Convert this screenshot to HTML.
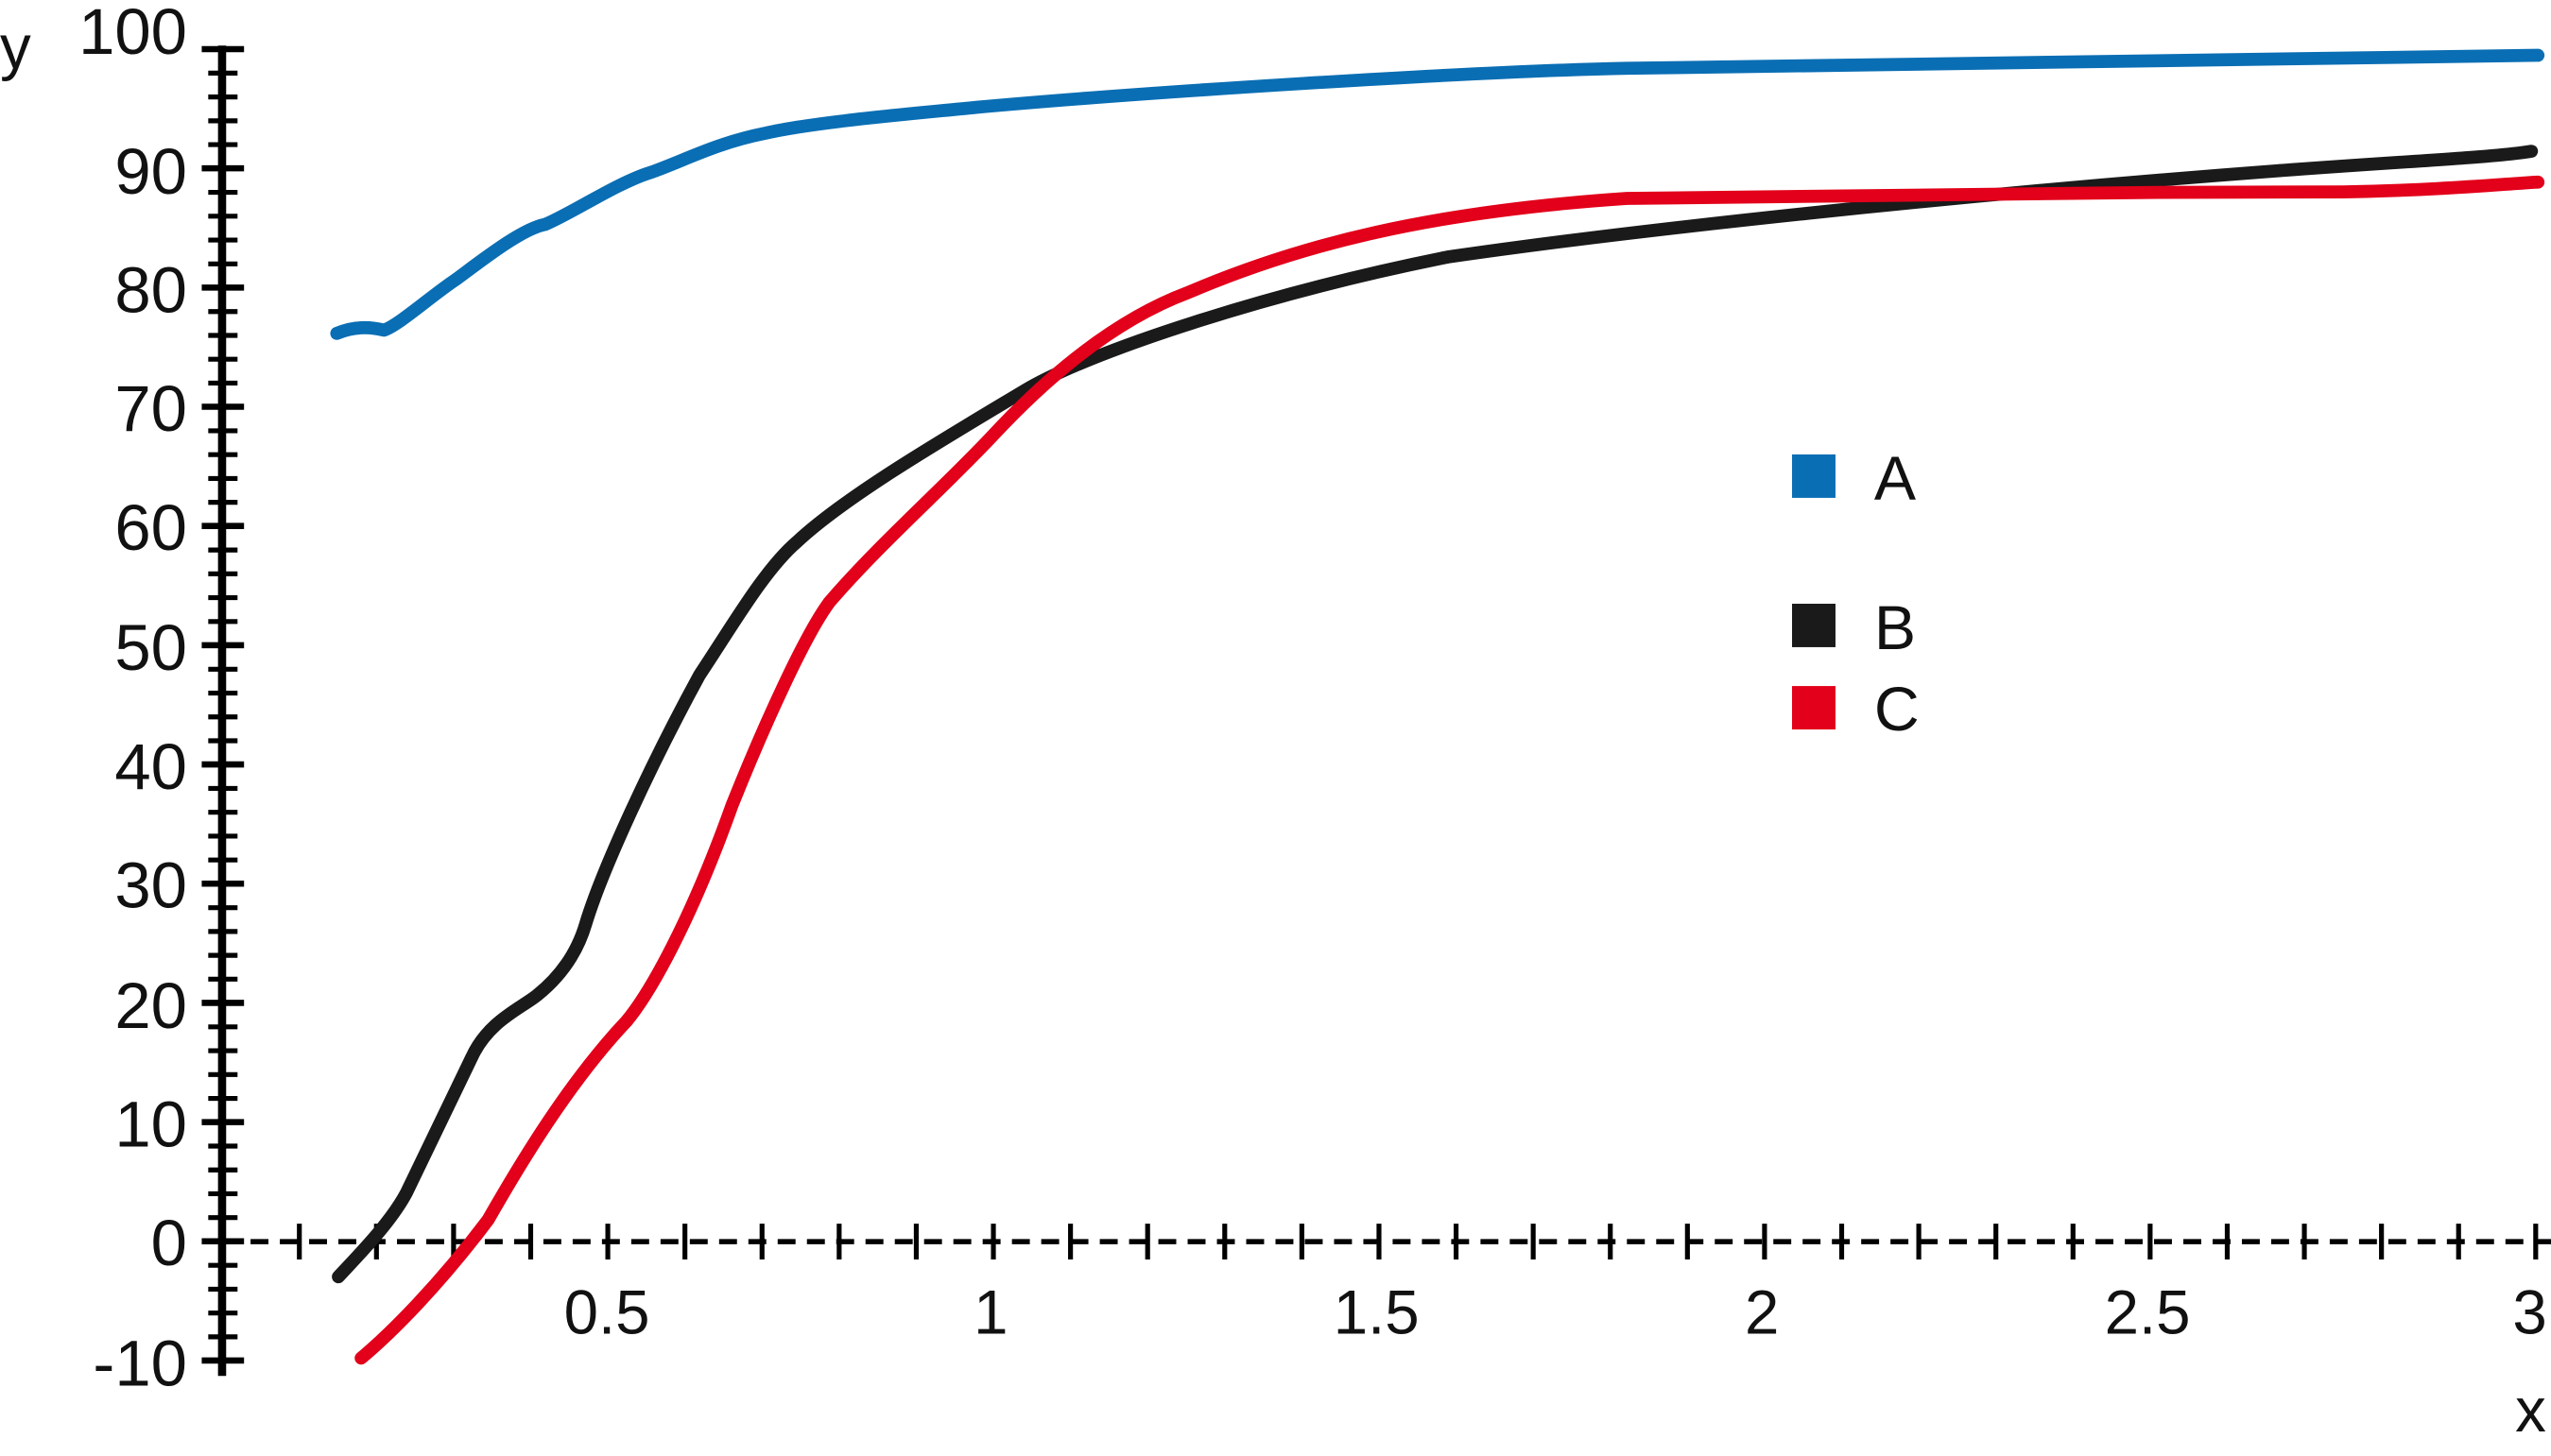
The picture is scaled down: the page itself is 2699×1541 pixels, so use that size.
<!DOCTYPE html>
<html><head><meta charset="utf-8"><style>
html,body{margin:0;padding:0;background:#fff;}
svg{display:block;}
text{font-family:"Liberation Sans",sans-serif;fill:#111;}
</style></head><body>
<svg width="2699" height="1541" viewBox="0 0 1568 895.2" preserveAspectRatio="none" xmlns="http://www.w3.org/2000/svg">
<rect x="0" y="0" width="1568" height="896" fill="#fff"/>
<line x1="136.5" y1="28" x2="136.5" y2="846" stroke="#000" stroke-width="5"/>
<line x1="137" y1="838.1" x2="137" y2="25" stroke="#000" stroke-width="18" stroke-dasharray="3 11.66"/>
<line x1="137" y1="838.4" x2="137" y2="25" stroke="#000" stroke-width="26" stroke-dasharray="3.8 69.5"/>
<line x1="136" y1="763.4" x2="1568" y2="763.4" stroke="#000" stroke-width="3.2" stroke-dasharray="11 7"/>
<line x1="182.5" y1="763.4" x2="1562" y2="763.4" stroke="#000" stroke-width="22" stroke-dasharray="3 44.4"/>
<g font-size="40" text-anchor="end">
<text x="115" y="33">100</text>
<text x="115" y="119">90</text>
<text x="115" y="192">80</text>
<text x="115" y="265">70</text>
<text x="115" y="338">60</text>
<text x="115" y="412">50</text>
<text x="115" y="485">40</text>
<text x="115" y="558">30</text>
<text x="115" y="632">20</text>
<text x="115" y="705">10</text>
<text x="115" y="778">0</text>
<text x="115" y="852">-10</text>
</g>
<g font-size="38" text-anchor="middle">
<text x="373" y="820">0.5</text>
<text x="609" y="820">1</text>
<text x="846" y="820">1.5</text>
<text x="1083" y="820">2</text>
<text x="1320" y="820">2.5</text>
<text x="1555" y="820">3</text>
</g>
<text x="0" y="42" font-size="38">y</text>
<text x="1546" y="880" font-size="38">x</text>
<g fill="none" stroke-width="8" stroke-linecap="round" stroke-linejoin="round">
<path stroke="#0a6eb4" d="M207,205 C214,202 224,200 236,203 C245,200 265,182 280,172 C295,161 320,141 335,138 C350,132 380,112 400,106 C420,99 440,88 470,82 C500,75 560,70 600,66 C700,57 900,44 1000,42 C1200,40 1400,36 1560,34"/>
<path stroke="#1a1a1a" d="M208,785 C220,772 240,752 250,733 L290,650 C300,628 320,620 330,612 C345,600 355,585 360,568 C370,535 400,470 430,415 C450,385 470,350 490,333 C520,305 580,270 630,240 C670,216 780,180 890,158 C1000,142 1200,120 1400,105 C1480,99 1530,97 1556,93"/>
<path stroke="#e2001a" d="M222,835 C240,820 270,790 300,750 C320,715 350,665 385,628 C400,610 425,565 450,495 C470,445 495,390 510,370 C540,335 580,300 610,268 C650,225 690,195 730,180 C800,150 880,130 1000,122 C1200,119 1300,118 1440,118 C1500,117 1540,113 1560,112"/>
</g>
<rect x="1101.5" y="279.4" width="26.7" height="26.7" fill="#0a6eb4"/>
<rect x="1101.5" y="371.2" width="26.7" height="26.7" fill="#1a1a1a"/>
<rect x="1101.5" y="421.8" width="26.7" height="26.7" fill="#e2001a"/>
<g font-size="38.5">
<text x="1152" y="307.3">A</text>
<text x="1152" y="399">B</text>
<text x="1152" y="449">C</text>
</g>
</svg>
</body></html>
